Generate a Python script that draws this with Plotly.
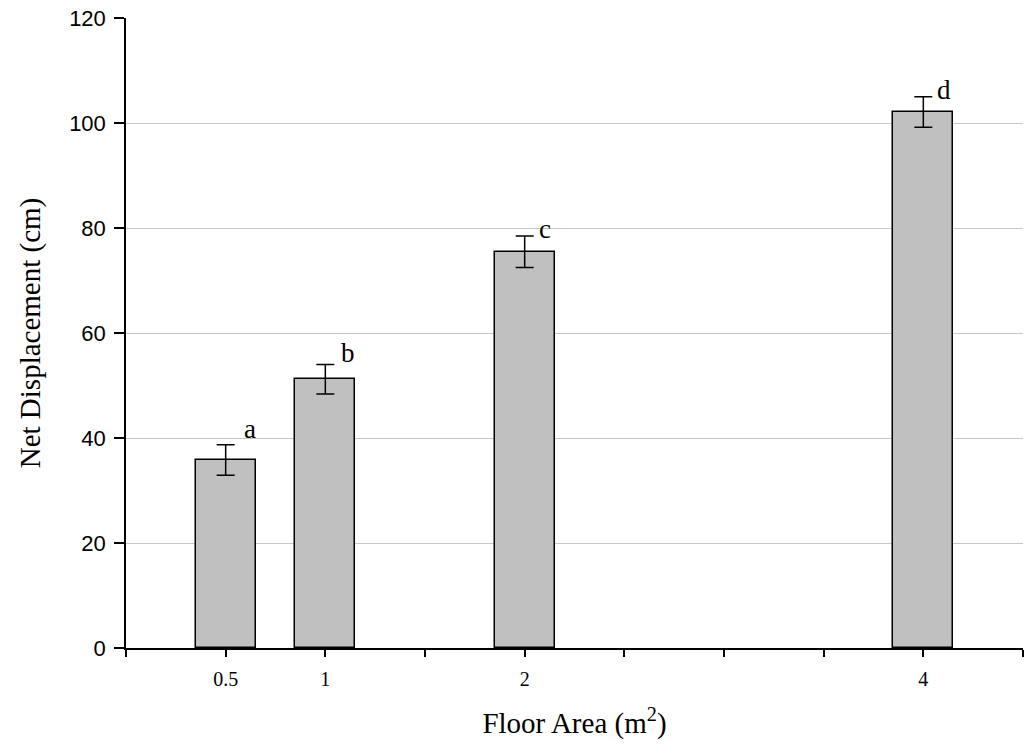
import plotly.graph_objects as go

# Floor area treatments (m^2) and mean net displacement (cm) with SE
floor_area = [0.5, 1, 2, 4]
net_displacement = [35.8, 51.2, 75.5, 102.1]
std_error = [2.9, 2.8, 3.0, 2.9]
group_letters = ["a", "b", "c", "d"]

x_tick_vals = [0, 0.5, 1, 1.5, 2, 2.5, 3, 3.5, 4, 4.5]
x_tick_text = ["", "0.5", "1", "", "2", "", "", "", "4", ""]
y_tick_vals = [0, 20, 40, 60, 80, 100, 120]

serif = "Liberation Serif, Times New Roman, serif"
sans = "Liberation Sans, Arial, sans-serif"

fig = go.Figure()
fig.add_trace(go.Bar(
    x=floor_area,
    y=net_displacement,
    width=0.3,
    marker=dict(color="#c0c0c0", line=dict(color="black", width=1.5)),
    error_y=dict(type="data", array=std_error, visible=True,
                 color="black", thickness=1.5, width=9),
    showlegend=False,
))

# significance letters just above and right of each error bar
letter_dx = [0.12, 0.115, 0.1, 0.105]
letter_shift = [16, 12, 7, 7]
for xv, yv, se, lab, dx, sh in zip(floor_area, net_displacement, std_error,
                                  group_letters, letter_dx, letter_shift):
    fig.add_annotation(x=xv + dx, y=yv + se, text=lab, showarrow=False,
                       yshift=sh, xanchor="center", yanchor="middle",
                       font=dict(family=serif, size=27, color="black"))

fig.update_layout(
    width=1029, height=751,
    margin=dict(l=126, r=6, t=18, b=103),
    paper_bgcolor="white", plot_bgcolor="white",
    bargap=0,
)
fig.update_xaxes(
    range=[0, 4.5], tickmode="array", tickvals=x_tick_vals, ticktext=x_tick_text,
    showline=True, linecolor="black", linewidth=1.5,
    ticks="outside", ticklen=7, tickwidth=1.5, tickcolor="black",
    ticklabelstandoff=5,
    showgrid=False, zeroline=False,
    tickfont=dict(family=serif, size=20, color="black"),
    title=dict(text="Floor Area (m<sup>2</sup>)", standoff=24,
               font=dict(family=serif, size=29, color="black")),
)
fig.update_yaxes(
    range=[0, 120], tickmode="array", tickvals=y_tick_vals,
    showline=True, linecolor="black", linewidth=1.5,
    ticks="outside", ticklen=10, tickwidth=1.5, tickcolor="black",
    ticklabelstandoff=4,
    showgrid=True, gridcolor="#c8c8c8", gridwidth=1, zeroline=False,
    tickfont=dict(family=sans, size=22, color="black"),
    title=dict(text="Net Displacement (cm)", standoff=20,
               font=dict(family=serif, size=29, color="black")),
)

fig.write_html("out.html")
